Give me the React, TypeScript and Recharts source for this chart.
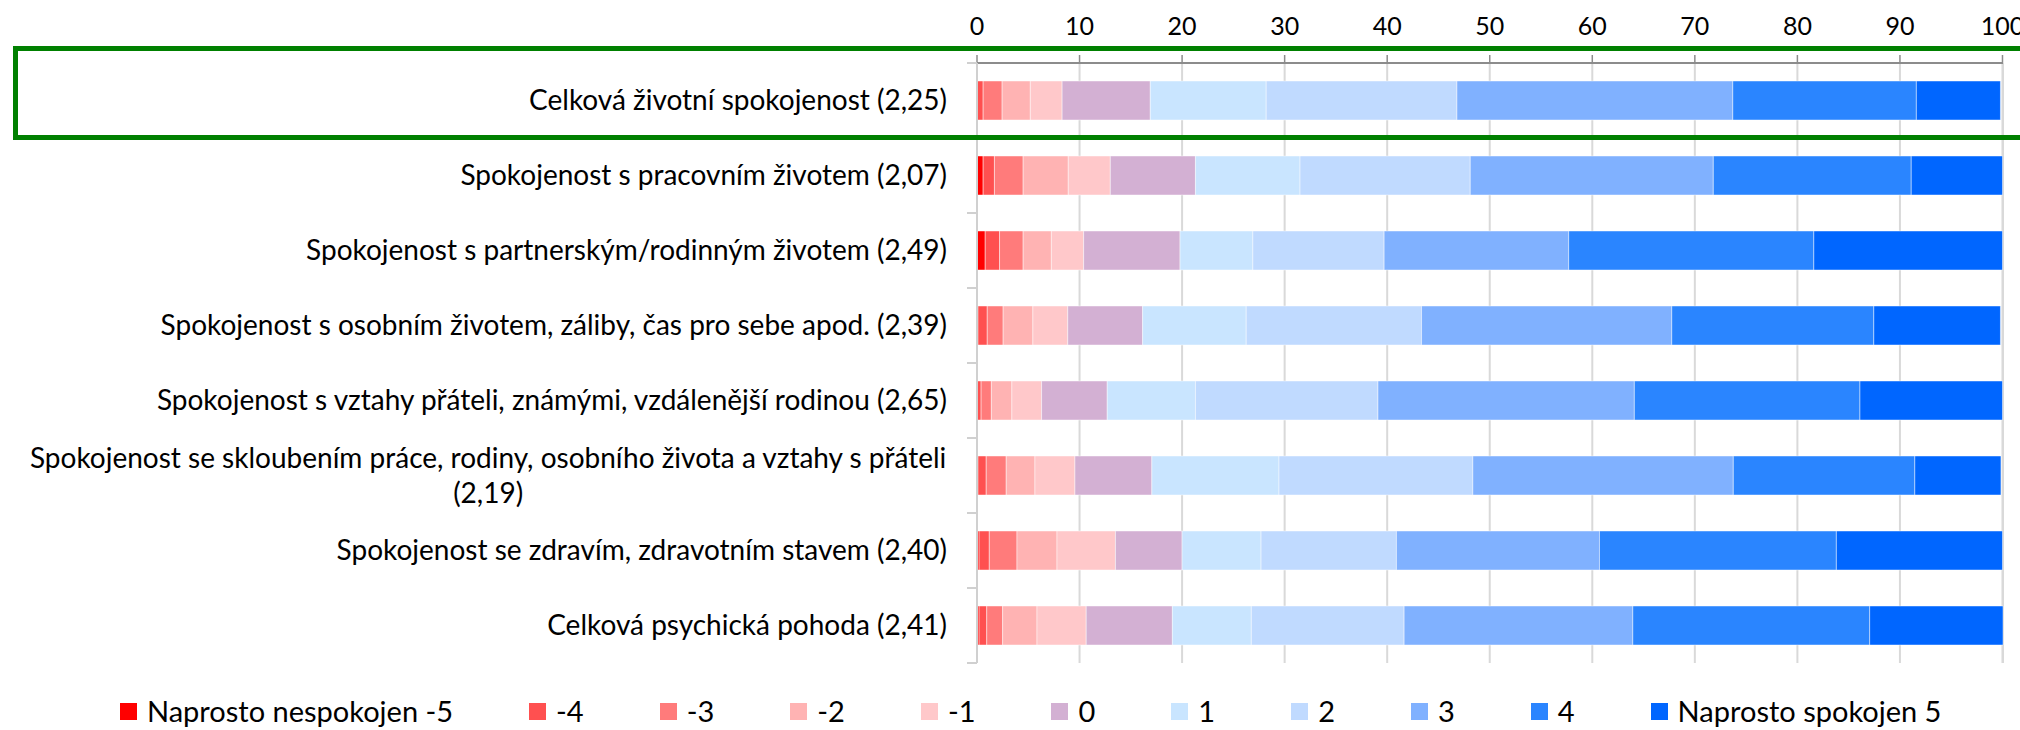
import React from "react"
import { BarChart, Bar, XAxis, YAxis, CartesianGrid, Legend } from "recharts"

const categories = [
  "Celková životní spokojenost (2,25)",
  "Spokojenost s pracovním životem (2,07)",
  "Spokojenost s partnerským/rodinným životem (2,49)",
  "Spokojenost s osobním životem, záliby, čas pro sebe apod. (2,39)",
  "Spokojenost s vztahy přáteli, známými, vzdálenější rodinou (2,65)",
  "Spokojenost se skloubením práce, rodiny, osobního života a vztahy s přáteli (2,19)",
  "Spokojenost se zdravím, zdravotním stavem (2,40)",
  "Celková psychická pohoda (2,41)",
]

const levelNames = ["Naprosto nespokojen -5", "-4", "-3", "-2", "-1", "0", "1", "2", "3", "4", "Naprosto spokojen 5"]
const levelColors = ["#FF0000", "#FF5050", "#FF7B7B", "#FFB3B3", "#FFC8CA", "#D3B0D3", "#C9E5FF", "#C0DAFF", "#80B1FF", "#2A85FF", "#0066FF"]

// percentages per answer level, one value per category (top to bottom)
const minus5 = [0, 0.6, 0.8, 0.1, 0, 0.1, 0.2, 0.2]
const minus4 = [0.6, 1.1, 1.4, 0.9, 0.4, 0.8, 1.0, 0.75]
const minus3 = [1.85, 2.8, 2.3, 1.55, 1.0, 1.95, 2.7, 1.55]
const minus2 = [2.75, 4.4, 2.75, 2.9, 2.0, 2.8, 3.9, 3.35]
const minus1 = [3.1, 4.1, 3.15, 3.4, 2.9, 3.9, 5.7, 4.8]
const zero = [8.6, 8.3, 9.4, 7.3, 6.4, 7.5, 6.5, 8.4]
const plus1 = [11.3, 10.2, 7.1, 10.1, 8.6, 12.4, 7.7, 7.7]
const plus2 = [18.6, 16.6, 12.8, 17.1, 17.8, 18.9, 13.2, 14.9]
const plus3 = [26.9, 23.7, 18.0, 24.4, 25.0, 25.4, 19.8, 22.3]
const plus4 = [17.9, 19.3, 23.9, 19.7, 22.0, 17.7, 23.1, 23.1]
const plus5 = [8.2, 8.9, 18.4, 12.35, 13.9, 8.4, 16.2, 13.0]

const levelValues = [minus5, minus4, minus3, minus2, minus1, zero, plus1, plus2, plus3, plus4, plus5]
const xTicks = [0, 10, 20, 30, 40, 50, 60, 70, 80, 90, 100]

const FONT = "Lato, 'Open Sans', sans-serif"
const LABEL_SIZE = 28
const AXIS_X = 977
const LABEL_GAP = 30
const PLOT_TOP = 63
const PLOT_BOTTOM = 663
const LEGEND_H = 38

const chartData = categories.map((name, i) => {
  const row: Record<string, string | number> = { name }
  levelValues.forEach((vals, k) => {
    row[`l${k}`] = vals[i]
  })
  return row
})

let measureCtx: CanvasRenderingContext2D | null = null
function textWidth(s: string, font: string) {
  if (!measureCtx) measureCtx = document.createElement("canvas").getContext("2d")
  if (!measureCtx) return s.length * 13
  measureCtx.font = font
  return measureCtx.measureText(s).width
}

function CategoryTick(props: any) {
  const { x, y, payload } = props
  const label: string = payload.value
  const font = `${LABEL_SIZE}px Lato`
  const maxW = AXIS_X - LABEL_GAP - 4
  let lines = [label]
  if (textWidth(label, font) > maxW) {
    const idx = label.lastIndexOf(" (")
    lines = [label.slice(0, idx), label.slice(idx + 1)]
  }
  const band = (PLOT_BOTTOM - PLOT_TOP) / categories.length
  const lineH = 35
  const y0 = y - ((lines.length - 1) * lineH) / 2
  const multi = lines.length > 1
  const widest = Math.max(...lines.map((l) => textWidth(l, font)))
  const tx = multi ? x - widest / 2 : x
  return (
    <g>
      <line x1={AXIS_X - 10} x2={AXIS_X} y1={y - band / 2} y2={y - band / 2} stroke="#d0d0d0" strokeWidth={2} />
      {y + band / 2 >= PLOT_BOTTOM - 1 && (
        <line x1={AXIS_X - 10} x2={AXIS_X} y1={y + band / 2} y2={y + band / 2} stroke="#d0d0d0" strokeWidth={2} />
      )}
      <text x={tx} y={y0} textAnchor={multi ? "middle" : "end"} fill="#000" fontFamily={FONT} fontSize={LABEL_SIZE}>
        {lines.map((l, i) => (
          <tspan key={i} x={tx} dy={i === 0 ? "0.35em" : lineH}>
            {l}
          </tspan>
        ))}
      </text>
    </g>
  )
}

function LegendContent() {
  return (
    <div
      style={{
        display: "flex",
        alignItems: "center",
        height: LEGEND_H,
        lineHeight: `${LEGEND_H}px`,
        fontFamily: FONT,
        fontSize: 29,
        color: "#000",
      }}
    >
      {levelNames.map((n, k) => (
        <div key={n} style={{ display: "flex", alignItems: "center", marginRight: 76, whiteSpace: "nowrap" }}>
          <span style={{ width: 17, height: 17, background: levelColors[k], marginRight: 10, display: "inline-block" }} />
          <span>{n}</span>
        </div>
      ))}
    </div>
  )
}

export default function App() {
  return (
    <div style={{ position: "absolute", left: 0, top: 0, width: 2020, height: 730, background: "#fff", overflow: "hidden" }}>
      <BarChart
        width={2020}
        height={730}
        data={chartData}
        layout="vertical"
        margin={{ top: PLOT_TOP - 40, right: 17, left: 0, bottom: 730 - PLOT_BOTTOM - LEGEND_H }}
        barSize={39}
      >
        <CartesianGrid horizontal={false} stroke="#d9d9d9" strokeWidth={2} />
        <XAxis
          type="number"
          orientation="top"
          domain={[0, 100]}
          ticks={xTicks}
          height={40}
          interval={0}
          axisLine={{ stroke: "#8c8c8c", strokeWidth: 2 }}
          tickLine={{ stroke: "#8c8c8c", strokeWidth: 1.5 }}
          tickSize={8}
          tickMargin={20}
          tick={{ fill: "#000", fontSize: 25, fontFamily: FONT }}
        />
        <YAxis
          type="category"
          dataKey="name"
          width={AXIS_X}
          axisLine={{ stroke: "#d0d0d0", strokeWidth: 2 }}
          tickLine={false}
          tickSize={0}
          tickMargin={LABEL_GAP}
          interval={0}
          tick={<CategoryTick />}
        />
        <Legend
          verticalAlign="bottom"
          content={<LegendContent />}
          wrapperStyle={{ left: 120, bottom: 0, width: 1900, height: LEGEND_H }}
        />
        {levelNames.map((n, k) => (
          <Bar
            key={n}
            dataKey={`l${k}`}
            name={n}
            stackId="a"
            fill={levelColors[k]}
            stroke="rgba(255,255,255,0.45)"
            strokeWidth={1}
            isAnimationActive={false}
          />
        ))}
      </BarChart>
      <div
        style={{
          position: "absolute",
          left: 13,
          top: 46,
          width: 2040,
          height: 94,
          boxSizing: "border-box",
          border: "5px solid #008000",
          pointerEvents: "none",
        }}
      />
    </div>
  )
}
